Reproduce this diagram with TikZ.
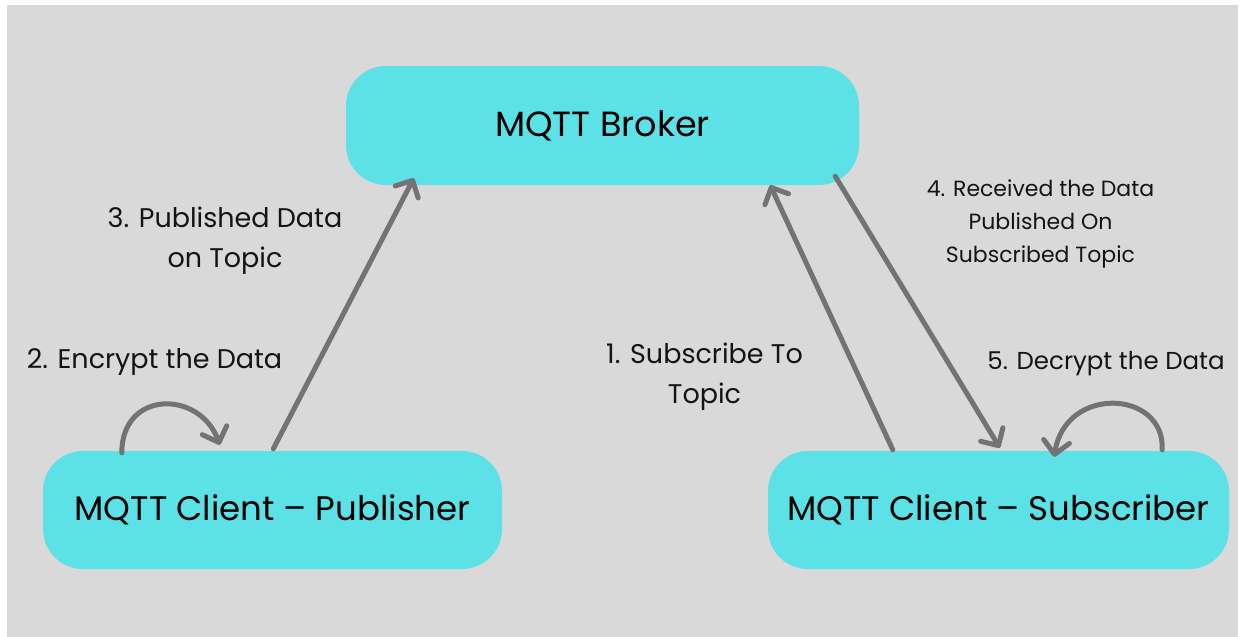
\documentclass[tikz,border=0pt]{standalone}
\usepackage{fontspec}
\setmainfont{Poppins}
\usetikzlibrary{arrows.meta,calc}

\definecolor{canvas}{HTML}{D9D9D9}
\definecolor{boxfill}{HTML}{5CE1E6}
\definecolor{linkgray}{HTML}{737373}
\definecolor{inkdark}{HTML}{141414}

\tikzset{
  roleBox/.style={fill=boxfill, rounded corners=40pt, inner sep=0pt,
    minimum height=118pt, font=\fontsize{34}{40}\selectfont, text=black},
  stepLabel/.style={anchor=base, align=center, text=inkdark,
    font=\fontsize{27}{40}\selectfont, inner sep=0pt},
  smallLabel/.style={anchor=base, align=center, text=inkdark,
    font=\fontsize{22}{33}\selectfont, inner sep=0pt},
  flow/.style={draw=linkgray, line width=5pt, line cap=round,
    -{Straight Barb[round, length=13pt, width=26pt]}},
}

\begin{document}
\begin{tikzpicture}[x=1pt, y=-1pt]
  % page and canvas
  \useasboundingbox (0,0) rectangle (1240,637);
  \fill[white] (0,0) rectangle (1240,637);
  \fill[canvas] (7,5) rectangle (1238,637);

  % the three parties
  \node[roleBox, minimum width=513pt, minimum height=119pt,
        font=\fontsize{35}{40}\selectfont] (broker) at (602.5,125.5) {MQTT Broker};
  \node[roleBox, minimum width=459pt] (pub) at (272.5,510) {MQTT Client – Publisher};
  \node[roleBox, minimum width=461pt] (sub) at (998.5,510) {MQTT Client – Subscriber};

  % step labels (base anchor sits on the last line)
  \node[stepLabel] (l3) at (225,267) {3. Published Data\\on Topic};
  \node[stepLabel] (l2) at (154.5,368) {2. Encrypt the Data};
  \node[stepLabel] (l1) at (704.5,403) {1. Subscribe To\\Topic};
  \node[smallLabel] (l4) at (1040.5,262) {4. Received the Data\\Published On\\Subscribed Topic};
  \node[stepLabel, font=\fontsize{24.5}{30}\selectfont] (l5) at (1106,369) {5. Decrypt the Data};

  % connector end points on the boxes
  \coordinate (pubUp)     at ($(pub.north west)+(230.5,-2)$);
  \coordinate (brokerIn)  at ($(broker.south west)+(68,-7)$);
  \coordinate (subUp)     at ($(sub.north west)+(125,-1)$);
  \coordinate (brokerSub) at ($(broker.south east)+(-89,0)$);
  \coordinate (brokerOut) at ($(broker.south east)+(-24,-9)$);
  \coordinate (subIn)     at ($(sub.north west)+(232,-3)$);
  \coordinate (encA) at ($(pub.north west)+(79,2)$);
  \coordinate (encB) at ($(pub.north west)+(177,-6)$);
  \coordinate (decA) at ($(sub.north east)+(-67,-1)$);
  \coordinate (decB) at ($(sub.north east)+(-175,6)$);

  % message flow
  \draw[flow] (pubUp) -- (brokerIn);
  \draw[flow] (subUp) -- (brokerSub);
  \draw[flow] (brokerOut) -- (subIn);

  % local processing loops
  \draw[flow] (encA) .. controls +(0,-63) and +(-20,-55) .. (encB);
  \draw[flow] (decA) .. controls +(3,-60) and +(11,-72) .. (decB);
\end{tikzpicture}
\end{document}
